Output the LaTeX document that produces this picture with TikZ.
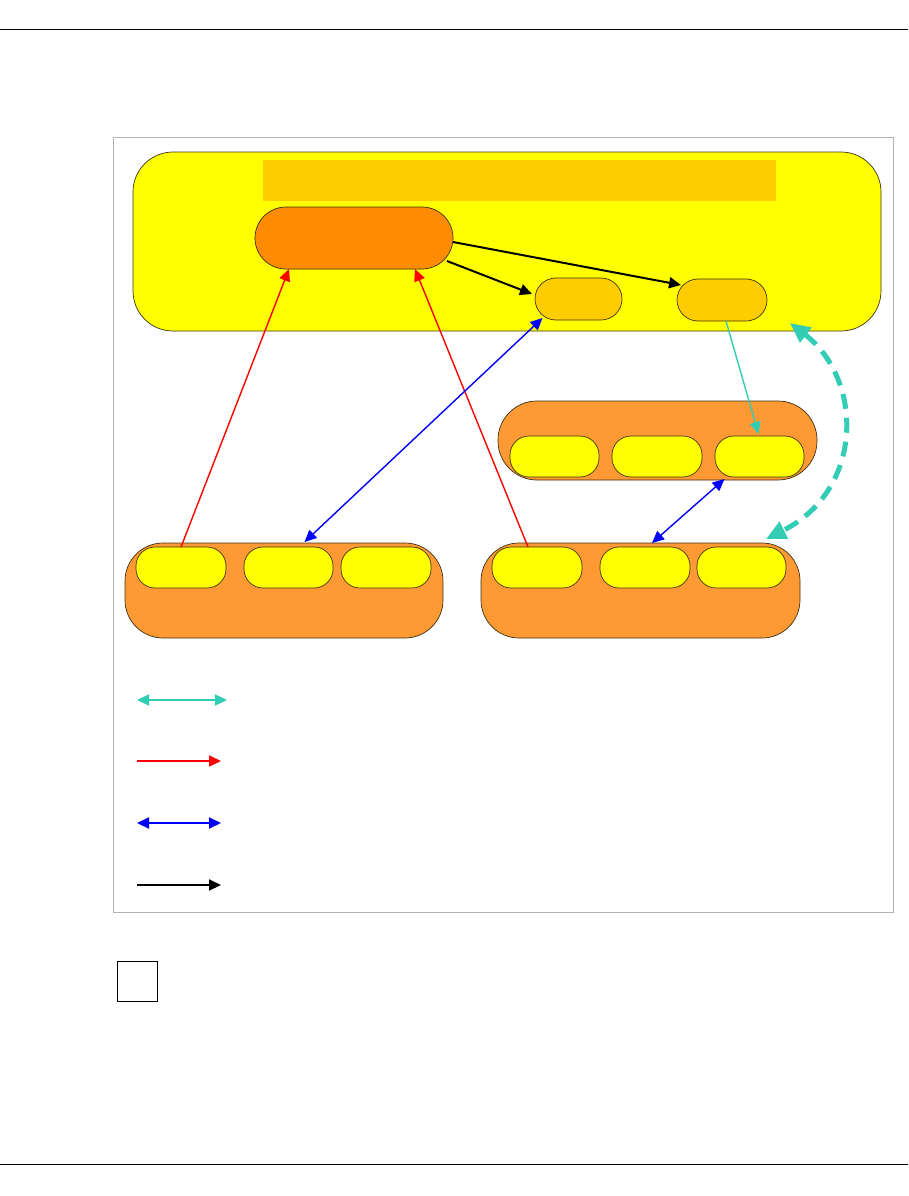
\documentclass[tikz,border=0pt]{standalone}
\usetikzlibrary{arrows.meta,calc}
\definecolor{cyel}{RGB}{255,255,0}
\definecolor{chead}{RGB}{255,204,0}
\definecolor{ccore}{RGB}{255,140,0}
\definecolor{cgrp}{RGB}{255,153,51}
\definecolor{cteal}{RGB}{51,204,180}
\definecolor{cblue}{RGB}{0,0,255}
\definecolor{cred}{RGB}{255,0,0}
\definecolor{cedge}{RGB}{60,50,20}
\tikzset{
  box/.style={draw=cedge, line width=0.7pt, inner sep=0pt, outer sep=0pt},
  pill/.style={box, rounded corners=19pt, fill=cyel, minimum width=89pt, minimum height=41pt},
  smallbox/.style={box, rounded corners=21pt, fill=chead, minimum width=88pt, minimum height=42pt},
  grp/.style={box, fill=cgrp, rounded corners=38pt},
  tipa/.style={-{Triangle[length=12pt,width=11pt]}},
  tipab/.style={{Triangle[length=12pt,width=11pt]}-{Triangle[length=12pt,width=11pt]}},
  redarr/.style={tipa, draw=cred, fill=cred, line width=1.4pt},
  bluearr/.style={tipab, draw=cblue, fill=cblue, line width=1.4pt},
  blackarr/.style={tipa, draw=black, fill=black, line width=2pt},
  tealarr/.style={tipa, draw=cteal, fill=cteal, line width=1.4pt},
  legline/.style={line width=2pt},
}
\begin{document}
\begin{tikzpicture}[x=1pt,y=-1pt]
\useasboundingbox (0,0) rectangle (908,1196);
% page lines
\coordinate (tl) at (0,30); \coordinate (tr) at (908,30);
\coordinate (bl) at (0,1164); \coordinate (br) at (908,1164);
\draw[line width=1pt] (tl) -- (tr);
\draw[line width=1pt] (bl) -- (br);
% frame
\node[draw=gray!60, line width=0.6pt, inner sep=0pt, minimum width=780pt, minimum height=775pt] (frame) at (503,524.5) {};
% big yellow box
\node[box, fill=cyel, rounded corners=40pt, minimum width=748pt, minimum height=179pt] (big) at (507,241.5) {};
\node[fill=chead, inner sep=0pt, minimum width=513pt, minimum height=41pt] (head) at (519.5,180.5) {};
\node[box, fill=ccore, rounded corners=31pt, minimum width=198pt, minimum height=62pt] (core) at (354,238) {};
\node[smallbox, minimum width=87pt] (s1) at (578.5,299) {};
\node[smallbox, minimum width=90pt] (s2) at (722,300) {};
% middle group
\node[grp, minimum width=319pt, minimum height=79pt, rounded corners=39pt] (mg) at (657.5,440.5) {};
\node[pill] (m1) at (554.5,456.5) {};
\node[pill, minimum width=90pt] (m2) at (657,456.5) {};
\node[pill] (m3) at (759.5,456.5) {};
% bottom-left group
\node[grp, minimum width=318pt, minimum height=95pt] (bg) at (284,590.5) {};
\node[pill, minimum width=90pt] (b1) at (181,567.5) {};
\node[pill] (b2) at (288.5,567.5) {};
\node[pill, minimum width=90pt] (b3) at (386,567.5) {};
% bottom-right group
\node[grp, minimum width=319pt, minimum height=95pt] (cg) at (640.5,590.5) {};
\node[pill, minimum width=90pt] (c1) at (537,567.5) {};
\node[pill, minimum width=90pt] (c2) at (645,567.5) {};
\node[pill] (c3) at (741.5,567.5) {};
% connectors
\draw[redarr] (b1.north) -- ([xshift=-65pt]core.south);
\draw[redarr] ([xshift=-9pt]c1.north) -- ([xshift=61pt]core.south);
\draw[bluearr] ([xshift=16pt,yshift=5pt]b2.north) -- ([xshift=-36pt,yshift=2pt]s1.south);
\draw[blackarr] ([xshift=-6pt,yshift=-23pt]core.east) -- ([xshift=-3pt,yshift=5pt]s1.west);
\draw[blackarr] ([yshift=-4pt]core.east) -- ([xshift=4pt,yshift=15pt]s2.west);
\draw[tealarr] ([xshift=4pt]s2.south) -- ([xshift=-1pt,yshift=2pt]m3.north);
\draw[bluearr] ([xshift=7pt,yshift=4pt]c2.north) -- ([xshift=-35pt,yshift=-2pt]m3.south);
\draw[draw=cteal, line width=5pt, dash pattern=on 15pt off 9pt,
  {Triangle[length=20pt,width=18pt,fill=cteal]}-{Triangle[length=20pt,width=18pt,fill=cteal]}]
  ([xshift=-91pt,yshift=8pt]big.south east) .. controls (864,380) and (864,490) .. ([xshift=-20pt,yshift=8pt]c3.north east);
% legend
\coordinate (la1) at (137,700); \coordinate (lb1) at (227,700);
\coordinate (la2) at (137,761); \coordinate (lb2) at (221,761);
\coordinate (la3) at (137,823); \coordinate (lb3) at (221,823);
\coordinate (la4) at (137,885); \coordinate (lb4) at (221,885);
\draw[tipab, draw=cteal, fill=cteal, legline] (la1) -- (lb1);
\draw[tipa, draw=cred, fill=cred, legline] (la2) -- (lb2);
\draw[tipab, draw=cblue, fill=cblue, legline] (la3) -- (lb3);
\draw[tipa, draw=black, fill=black, legline] (la4) -- (lb4);
% small square
\node[draw, line width=1pt, inner sep=0pt, minimum size=40pt] (sq) at (137,981) {};
\end{tikzpicture}
\end{document}
